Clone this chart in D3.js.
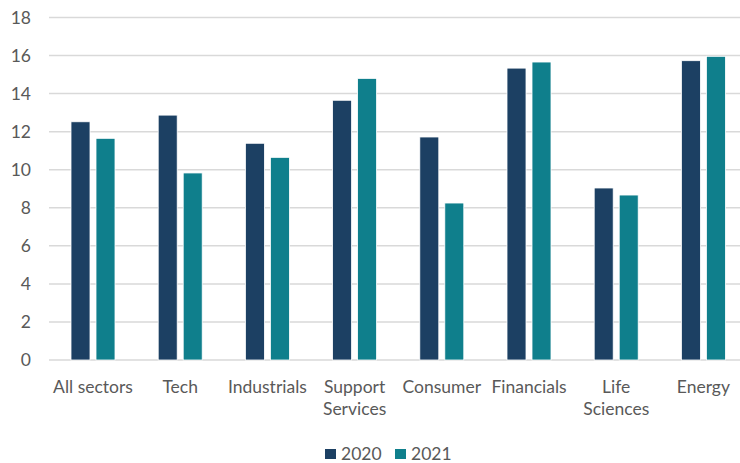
<!DOCTYPE html>
<html>
<head>
<meta charset="utf-8">
<script src="https://cdn.jsdelivr.net/npm/d3@7"></script>
<style>
  html, body { margin: 0; padding: 0; background: #fff; }
  svg { display: block; }
  text { font-family: Lato, "Open Sans", sans-serif; fill: #595959; }
</style>
</head>
<body>
<svg id="chart" width="740" height="463"></svg>
<script>
const categories = ["All sectors", "Tech", "Industrials", "Support Services", "Consumer", "Financials", "Life Sciences", "Energy"];
const seriesNames = ["2020", "2021"];
const values2020 = [12.52, 12.87, 11.39, 13.65, 11.72, 15.34, 9.04, 15.73];
const values2021 = [11.65, 9.83, 10.65, 14.80, 8.25, 15.66, 8.67, 15.96];
const yTicks = [0, 2, 4, 6, 8, 10, 12, 14, 16, 18];
const colors = ["#1c4063", "#0f7f8c"];

const svg = d3.select("#chart");
const W = 740, H = 463;
const plotLeft = 49.4, plotRight = 747, plotTop = 17.5, plotBottom = 360;
const fontSize = 17.5;

const x = d3.scaleBand().domain(categories).range([plotLeft, plotRight]);
const y = d3.scaleLinear().domain([0, 18]).range([plotBottom, plotTop]);

// horizontal gridlines
svg.append("g")
  .selectAll("line")
  .data(yTicks)
  .join("line")
  .attr("x1", 49).attr("x2", W)
  .attr("y1", d => y(d)).attr("y2", d => y(d))
  .attr("stroke", "#d9d9d9").attr("stroke-width", 1.5);

// value axis labels
const gy = svg.append("g").attr("transform", "translate(31,0)")
  .call(d3.axisLeft(y).tickValues(yTicks).tickSize(0).tickPadding(0));
gy.select(".domain").remove();
gy.selectAll("text")
  .attr("font-size", fontSize)
  .style("font-family", "Lato, sans-serif")
  .attr("fill", "#595959");

// grouped bars: 44px cluster centred in each band
const groupWidth = 44;
const inner = d3.scaleBand().domain(seriesNames)
  .range([(x.bandwidth() - groupWidth) / 2, (x.bandwidth() + groupWidth) / 2])
  .paddingInner(0.24).paddingOuter(0);
const seriesData = [values2020, values2021];
seriesNames.forEach((s, si) => {
  svg.append("g")
    .selectAll("rect")
    .data(categories.map((c, i) => ({ c, v: seriesData[si][i] })))
    .join("rect")
    .attr("x", d => x(d.c) + inner(s))
    .attr("y", d => y(d.v))
    .attr("width", inner.bandwidth())
    .attr("height", d => y(0) - y(d.v))
    .attr("fill", colors[si])
    .attr("stroke", "#ffffff").attr("stroke-width", 0.8);
});

// category labels, wrapped onto two lines when long
const gx = svg.append("g").attr("transform", `translate(0,${y(0)})`)
  .call(d3.axisBottom(x).tickSize(0).tickPadding(0));
gx.select(".domain").remove();
gx.selectAll("text")
  .attr("font-size", fontSize)
  .style("font-family", "Lato, sans-serif")
  .attr("fill", "#595959")
  .attr("dy", 0)
  .each(function(d) {
    const t = d3.select(this);
    const words = d.split(" ");
    t.text(null);
    const lines = [];
    let cur = [];
    words.forEach(w => {
      const test = cur.concat(w).join(" ");
      if (test.length > 12 && cur.length) { lines.push(cur.join(" ")); cur = [w]; }
      else cur.push(w);
    });
    lines.push(cur.join(" "));
    lines.forEach((ln, li) => {
      t.append("tspan").attr("x", 0).attr("y", 32.5 + li * 22).text(ln);
    });
  });

// legend
const legend = svg.append("g");
const legX = [325, 395];
seriesNames.forEach((s, i) => {
  legend.append("rect").attr("x", legX[i]).attr("y", 449).attr("width", 11).attr("height", 10).attr("fill", colors[i]);
  legend.append("text").attr("x", legX[i] + 16).attr("y", 459.5).attr("font-size", fontSize).text(s);
});
</script>
</body>
</html>
